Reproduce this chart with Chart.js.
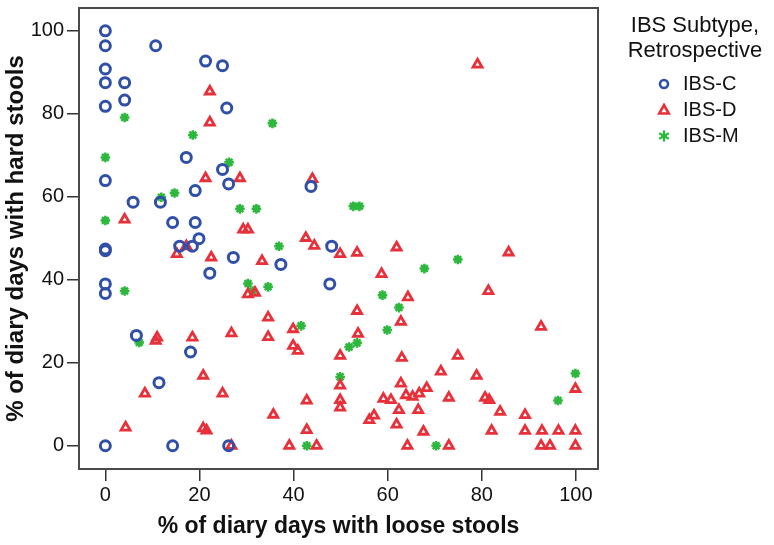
<!DOCTYPE html>
<html>
<head>
<meta charset="utf-8">
<script src="https://cdn.jsdelivr.net/npm/chart.js@4.4.1/dist/chart.umd.min.js"></script>
<style>
  body { margin: 0; background: #fff; }
  #wrap { position: relative; width: 774px; height: 545px; }
  #legend { position: absolute; left: 598px; top: 0; width: 194px; font-family: Arial, "Liberation Sans", sans-serif; color: #111; }
  #legend .title { text-align: center; font-size: 22px; line-height: 25px; padding-top: 12px; }
  #legend .item { position: relative; height: 26px; font-size: 20px; line-height: 26px; }
  #legend .item svg { position: absolute; left: 59px; top: 7px; }
  #legend .item span { position: absolute; left: 85px; top: 0; }
</style>
</head>
<body>
<div id="wrap">
  <canvas id="chart"></canvas>
  <div id="legend">
    <div class="title">IBS Subtype,<br>Retrospective</div>
    <div style="height:8px"></div>
    <div class="item"><svg width="14" height="14"><circle cx="7" cy="7" r="4" fill="none" stroke="#3050a8" stroke-width="2.6"/></svg><span>IBS-C</span></div>
    <div class="item"><svg width="14" height="14"><polygon points="7,2 11.8,10.5 2.2,10.5" fill="none" stroke="#e8303a" stroke-width="2.6"/></svg><span>IBS-D</span></div>
    <div class="item"><svg width="14" height="14"><g stroke="#2db83d" stroke-width="2.4" stroke-linecap="round"><line x1="7" y1="2.5" x2="7" y2="11.5"/><line x1="3" y1="4.8" x2="11" y2="9.2"/><line x1="3" y1="9.2" x2="11" y2="4.8"/></g></svg><span>IBS-M</span></div>
  </div>
</div>
<script>
// % días con heces sueltas (x) y duras (y), por subtipo
const ibsCx = [0, 0, 10.7, 21.3, 24.9, 0, 0, 4.1, 4.1, 0, 25.8, 17.2, 0, 24.9, 26.2, 19.1, 5.9, 11.7, 14.3, 19.1,
  19.9, 15.8, 18.5, 0, 0, 48.1, 43.7, 27.2, 22.2, 37.3, 47.7, 0, 0, 6.6, 18.1, 11.4, 0, 14.3, 26.2];
const ibsCy = [100, 96.4, 96.4, 92.7, 91.6, 90.8, 87.5, 87.5, 83.3, 81.8, 81.4, 69.5, 63.9, 66.6, 63.1, 61.5, 58.7, 58.7, 53.8, 53.8,
  49.9, 48.1, 48.1, 47.4, 47.0, 48.1, 62.5, 45.4, 41.6, 43.7, 39.0, 39.0, 36.7, 26.6, 22.6, 15.2, 0, 0, 0];

const ibsDx = [22.2, 22.2, 21.3, 28.6, 44.0, 4.1, 29.3, 30.3, 42.6, 44.4, 17.2, 15.2, 22.5, 33.3, 30.3, 31.8, 34.6, 39.9, 26.8, 34.6,
  11.0, 10.7, 18.5, 39.9, 40.9, 20.8, 8.4, 24.9, 42.8, 35.7, 4.3, 20.8, 21.5, 42.8, 26.8, 39.1, 44.9, 49.9, 53.5, 61.9,
  85.7, 58.7, 64.3, 81.4, 53.5, 62.8, 53.7, 49.9, 63.0, 74.9, 92.6, 71.3, 78.9, 49.9, 62.8, 63.9, 65.3, 66.7, 68.3, 59.1,
  60.7, 73.0, 80.7, 81.6, 49.9, 49.9, 99.9, 56.1, 57.1, 62.4, 66.5, 83.9, 89.2, 61.9, 67.6, 82.1, 89.2, 92.8, 96.3, 99.9,
  64.2, 73.0, 92.6, 94.5, 99.9, 79.1];
const ibsDy = [85.4, 77.9, 64.5, 64.5, 64.3, 54.5, 52.1, 52.1, 50.1, 48.2, 48.1, 46.2, 45.4, 44.5, 36.5, 36.9, 30.9, 28.1, 27.1, 26.2,
  26.1, 25.3, 26.1, 24.1, 22.9, 16.9, 12.6, 12.6, 10.9, 7.5, 4.4, 4.2, 3.7, 3.8, 0, 0, 0, 46.2, 46.5, 47.8,
  46.6, 41.4, 35.8, 37.3, 32.5, 29.9, 27.0, 21.7, 21.2, 21.7, 28.7, 17.9, 16.9, 14.5, 15.0, 12.2, 11.8, 12.6, 13.9, 11.3,
  11.0, 11.6, 11.6, 11.0, 11.0, 9.2, 13.7, 6.2, 7.3, 8.6, 8.6, 8.2, 7.4, 5.1, 3.4, 3.6, 3.6, 3.6, 3.6, 3.6,
  0, 0, 0, 0, 0, 91.9];

const ibsMx = [4.1, 35.5, 18.6, 0, 26.3, 0, 11.9, 14.7, 28.6, 32.1, 36.9, 52.7, 54.0, 4.1, 30.3, 31.3, 34.6, 41.6, 7.2, 42.8,
  74.9, 67.8, 58.9, 62.4, 59.9, 51.8, 53.5, 49.9, 70.3, 99.9, 96.2];
const ibsMy = [79.1, 77.7, 74.9, 69.5, 68.3, 54.3, 59.9, 60.9, 57.1, 57.1, 48.1, 57.7, 57.7, 37.3, 39.1, 37.3, 38.3, 28.9, 24.9, 0,
  44.9, 42.7, 36.3, 33.3, 27.9, 23.8, 24.8, 16.6, 0, 17.4, 10.9];

const axisTicks = [0, 20, 40, 60, 80, 100];

const toPoints = (xs, ys) => xs.map((x, i) => ({ x, y: ys[i] }));

// marco completo alrededor del área de datos
const boxPlugin = {
  id: 'box',
  afterDraw(chart) {
    const { ctx, chartArea: a } = chart;
    ctx.save();
    ctx.strokeStyle = '#4a4a4a';
    ctx.lineWidth = 2;
    ctx.strokeRect(a.left, a.top, a.right - a.left, a.bottom - a.top);
    ctx.restore();
  }
};

const fontFamily = 'Arial, "Liberation Sans", sans-serif';
const tickFont = { family: fontFamily, size: 20 };
const fixTicks = s => { s.ticks = axisTicks.map(v => ({ value: v })); };
const noPad = s => { s.paddingTop = 0; s.paddingBottom = 0; s.paddingLeft = 0; s.paddingRight = 0; };

new Chart(document.getElementById('chart'), {
  type: 'scatter',
  data: {
    datasets: [
      { label: 'IBS-C', data: toPoints(ibsCx, ibsCy), pointStyle: 'circle', pointRadius: 5, borderWidth: 3,
        borderColor: '#3050a8', backgroundColor: 'rgba(0,0,0,0)' },
      { label: 'IBS-D', data: toPoints(ibsDx, ibsDy), pointStyle: 'triangle', pointRadius: 5.2, borderWidth: 2.8,
        borderColor: '#e8303a', backgroundColor: 'rgba(0,0,0,0)' },
      { label: 'IBS-M', data: toPoints(ibsMx, ibsMy), pointStyle: 'star', pointRadius: 4.8, borderWidth: 2.5,
        borderColor: '#2db83d', backgroundColor: '#2db83d' }
    ]
  },
  options: {
    responsive: true,
    maintainAspectRatio: false,
    animation: false,
    layout: { padding: { top: 6, right: 176, left: 0, bottom: 0 } },
    plugins: { legend: { display: false }, tooltip: { enabled: false } },
    scales: {
      x: {
        type: 'linear', min: -5.6, max: 104.7,
        afterBuildTicks: fixTicks,
        afterFit: s => { s.height = 76; noPad(s); },
        grid: { drawOnChartArea: false, drawTicks: true, tickLength: 12, color: '#333', lineWidth: 1.5 },
        border: { display: true, color: '#4a4a4a', width: 2 },
        ticks: { color: '#111', font: tickFont, padding: 2, maxRotation: 0 },
        title: { display: true, text: '% of diary days with loose stools', color: '#111',
          font: { family: fontFamily, size: 23, weight: 'bold' }, padding: { top: 0, bottom: 5 } }
      },
      y: {
        type: 'linear', min: -5.6, max: 105.5,
        afterBuildTicks: fixTicks,
        afterFit: s => { s.width = 79; noPad(s); },
        grid: { drawOnChartArea: false, drawTicks: true, tickLength: 12, color: '#333', lineWidth: 1.5 },
        border: { display: true, color: '#4a4a4a', width: 2 },
        ticks: { color: '#111', font: tickFont, padding: 3 },
        title: { display: true, text: '% of diary days with hard stools', color: '#111',
          font: { family: fontFamily, size: 24, weight: 'bold' }, padding: { top: 2, bottom: 0 } }
      }
    }
  },
  plugins: [boxPlugin]
});
</script>
</body>
</html>
